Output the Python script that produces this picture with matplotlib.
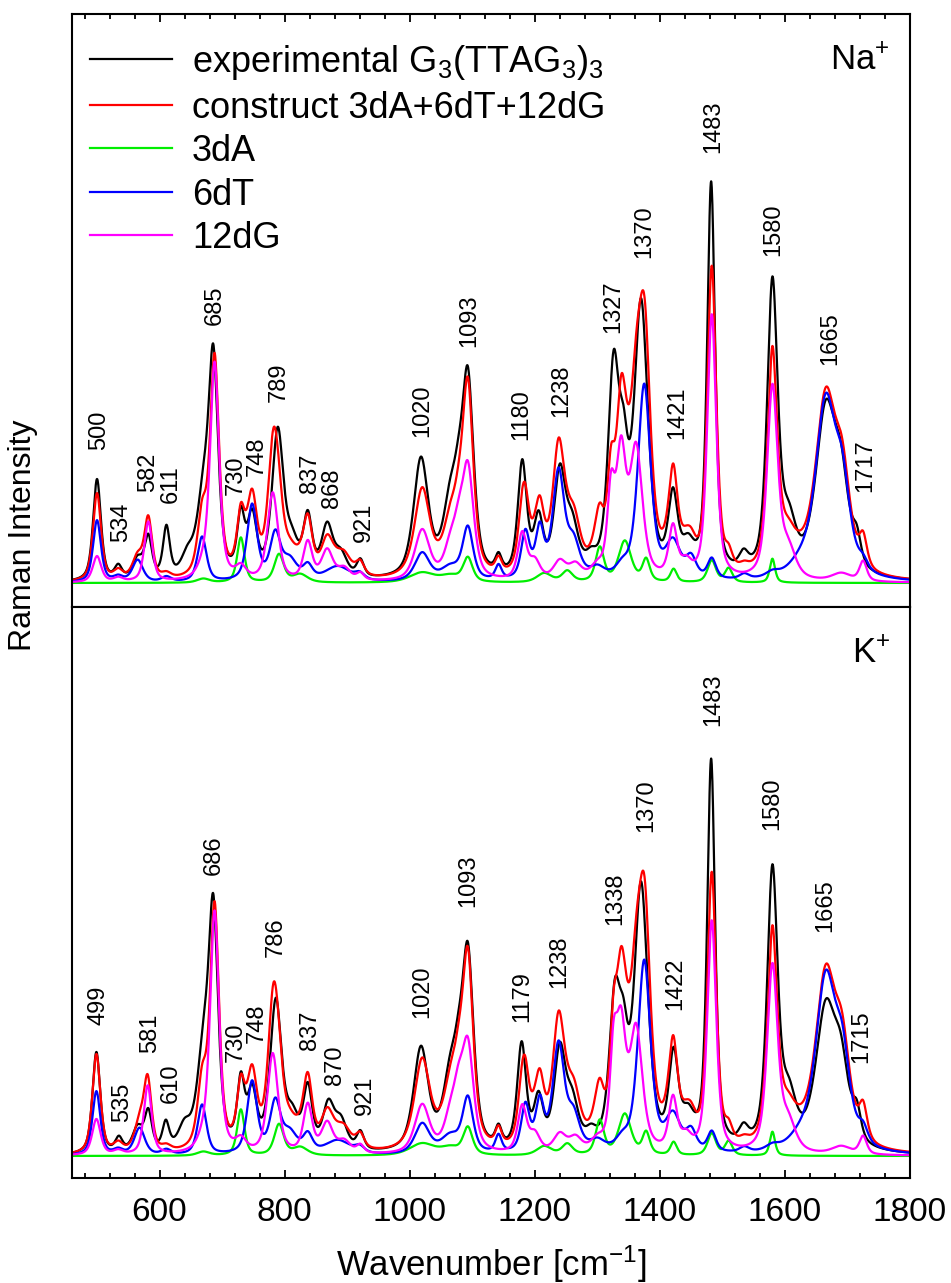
import numpy as np
import matplotlib
matplotlib.use("Agg")
import matplotlib.pyplot as plt
from matplotlib.ticker import MultipleLocator

# ---------------- data (band tables) ----------------
wavenumber = np.arange(460.0, 1800.5, 0.5)

# Na+ panel --------------------------------------------------------------
na_3dA_center = [670, 730, 791, 825, 1020, 1065, 1093, 1215, 1252, 1304, 1344, 1378, 1422, 1483, 1510, 1580]
na_3dA_height = [4, 45, 28, 8, 10, 6, 24, 9, 11, 34, 41, 22, 13, 22, 14, 24]
na_3dA_width = [12, 7, 9, 14, 24, 18, 9, 14, 10, 8, 12, 7, 6, 8, 7, 5]

na_6dT_center = [500, 534, 565, 611, 668, 748, 785, 808, 837, 885, 920, 1020, 1065, 1093, 1142, 1185,
                 1208, 1238, 1262, 1300, 1340, 1375, 1421, 1450, 1483, 1535, 1580, 1625, 1665, 1692, 1725]
na_6dT_height = [62, 5, 22, 5, 45, 76, 45, 20, 14, 15, 6, 28, 13, 52, 14, 46,
                 48, 106, 34, 10, 10, 195, 35, 20, 20, 5, 5, 12, 172, 80, 10]
na_6dT_width = [7.5, 9, 10, 9, 8.5, 9.5, 10, 14, 9, 24, 9, 14, 18, 10, 6, 8,
                8, 11, 12, 14, 12, 12, 14, 10, 8, 9, 12, 22, 19, 15, 9]

na_12dG_center = [500, 534, 582, 670, 688, 730, 781, 837, 868, 895, 921, 1020, 1065, 1078, 1093, 1180,
                  1200, 1240, 1265, 1300, 1322, 1338, 1362, 1421, 1442, 1483, 1580, 1605, 1690, 1725]
na_12dG_height = [26, 4, 60, 10, 218, 12, 88, 38, 30, 12, 7, 50, 28, 34, 108, 46,
                  18, 18, 14, 10, 80, 118, 128, 50, 14, 265, 192, 28, 8, 20]
na_12dG_width = [8, 9, 7.5, 10, 8.5, 10, 10, 8.5, 11, 12, 7, 14, 12, 10, 11, 8.5,
                 10, 12, 12, 12, 7, 9, 12, 8, 10, 8.5, 10, 14, 18, 7]

na_exp_center = [500, 534, 565, 582, 611, 645, 670, 686, 730, 748, 789, 812, 837, 868, 890, 921,
                 1018, 1065, 1078, 1093, 1142, 1180, 1206, 1240, 1260, 1290, 1326, 1342, 1370, 1421,
                 1445, 1482, 1534, 1580, 1606, 1665, 1690, 1715]
na_exp_height = [102, 13, 20, 40, 50, 20, 72, 210, 57, 58, 145, 30, 58, 50, 22, 17,
                 118, 66, 44, 190, 16, 112, 54, 100, 44, 12, 198, 88, 268, 74,
                 26, 392, 16, 290, 46, 160, 80, 26]
na_exp_width = [7.5, 7, 10, 7, 6.5, 12, 12, 9, 7, 9, 11, 12, 8.5, 11, 12, 7,
                14, 14, 10, 11, 6, 8.5, 9, 11, 12, 10, 10.5, 9, 13, 9,
                12, 7.5, 9, 10, 14, 19, 15, 8]

# K+ panel ---------------------------------------------------------------
k_3dA_center = [670, 730, 791, 825, 1020, 1065, 1093, 1215, 1252, 1304, 1344, 1378, 1422, 1483, 1510, 1580]
k_3dA_height = [4, 46, 31, 8, 12, 7, 27, 9, 11, 34, 41, 22, 13, 22, 14, 24]
k_3dA_width = [12, 7, 9, 14, 24, 18, 9, 14, 10, 8, 12, 7, 6, 8, 7, 5]

k_6dT_center = [499, 534, 568, 611, 668, 748, 785, 808, 837, 885, 920, 1020, 1065, 1093, 1142, 1185,
                1208, 1238, 1262, 1300, 1340, 1375, 1421, 1450, 1483, 1535, 1580, 1625, 1665, 1692, 1725]
k_6dT_height = [64, 5, 27, 5, 50, 72, 50, 20, 18, 14, 6, 30, 17, 54, 17, 46,
                48, 106, 34, 10, 10, 192, 35, 20, 20, 5, 5, 12, 168, 80, 16]
k_6dT_width = [7.5, 9, 10, 9, 8.5, 9.5, 10, 14, 9, 24, 9, 14, 18, 10, 6, 8,
               8, 11, 12, 14, 12, 12, 14, 10, 8, 9, 12, 22, 19, 15, 9]

k_12dG_center = [499, 534, 581, 670, 688, 730, 781, 837, 868, 895, 921, 1020, 1065, 1078, 1093, 1180,
                 1200, 1240, 1265, 1300, 1326, 1338, 1362, 1421, 1442, 1483, 1580, 1605, 1690, 1725]
k_12dG_height = [36, 4, 69, 10, 242, 12, 100, 48, 30, 12, 8, 48, 30, 44, 102, 46,
                 18, 18, 14, 10, 88, 112, 120, 52, 14, 232, 186, 28, 8, 18]
k_12dG_width = [8, 9, 7.5, 10, 8.5, 10, 10, 8.5, 11, 12, 7, 14, 12, 10, 11, 8.5,
                10, 12, 12, 12, 7, 9, 12, 8, 10, 8.5, 10, 14, 18, 7]

k_exp_center = [499, 535, 565, 582, 610, 640, 670, 686, 730, 748, 786, 812, 837, 870, 890, 921,
                1018, 1065, 1078, 1093, 1142, 1179, 1206, 1240, 1260, 1290, 1328, 1342, 1370, 1422,
                1445, 1482, 1534, 1580, 1606, 1665, 1690, 1715]
k_exp_height = [102, 14, 24, 38, 27, 22, 88, 228, 64, 54, 148, 30, 60, 44, 28, 18,
                102, 65, 44, 188, 18, 104, 48, 96, 42, 12, 140, 75, 260, 88,
                28, 388, 16, 276, 46, 136, 70, 28]
k_exp_width = [7.5, 7, 10, 7, 6.5, 12, 12, 9, 7, 9, 11, 12, 8.5, 11, 12, 7,
               14, 14, 10, 11, 6, 8.5, 9, 11, 12, 10, 10.5, 9, 13, 9,
               12, 7.5, 9, 10, 14, 19, 15, 8]

# peak annotations ---------------------------------------------------------
na_label_text = ["500", "534", "582", "611", "685", "730", "748", "789", "837", "868", "921",
                 "1020", "1093", "1180", "1238", "1327", "1370", "1421", "1483", "1580", "1665", "1717"]
na_label_x = [503, 538, 582, 618, 689, 722, 756, 790, 841, 876, 926,
              1020, 1096, 1178, 1242, 1326, 1375, 1428, 1486, 1582, 1673, 1729]
na_label_y = [133, 41, 91, 80, 258, 88, 107, 181, 90, 75, 41,
              146, 236, 143, 166, 250, 325, 144, 430, 327, 218, 91]

k_label_text = ["499", "535", "581", "610", "686", "730", "748", "786", "837", "870", "921",
                "1020", "1093", "1179", "1238", "1338", "1370", "1422", "1483", "1580", "1665", "1715"]
k_label_x = [503, 540, 585, 618, 686, 722, 756, 786, 841, 881, 929,
             1020, 1094, 1180, 1239, 1329, 1378, 1425, 1485, 1580, 1665, 1722]
k_label_y = [131, 34, 103, 53, 281, 94, 113, 199, 106, 71, 41,
             138, 249, 134, 168, 231, 324, 146, 430, 326, 224, 93]

legend_labels = ["experimental G$_3$(TTAG$_3$)$_3$", "construct 3dA+6dT+12dG", "3dA", "6dT", "12dG"]
series_colors = ["#000000", "#ff0000", "#00ee00", "#0000ff", "#ff00ff"]


def band_sum(centers, heights, widths):
    c = np.asarray(centers, float)[:, None]
    h = np.asarray(heights, float)[:, None]
    w = np.asarray(widths, float)[:, None]
    d = (wavenumber[None, :] - c) / w
    prof = 0.6 / (1.0 + d ** 2) + 0.4 * np.exp(-np.log(2.0) * d ** 2)
    return (h * prof).sum(axis=0)


# ---------------- style ----------------
plt.rcParams["font.family"] = ["Liberation Sans", "DejaVu Sans"]
plt.rcParams["mathtext.fontset"] = "custom"
plt.rcParams["mathtext.rm"] = "Liberation Sans"
plt.rcParams["mathtext.it"] = "Liberation Sans:italic"
plt.rcParams["mathtext.bf"] = "Liberation Sans:bold"

fig = plt.figure(figsize=(9.51, 12.83), dpi=100)
W, H = 951.0, 1283.0
ax1 = fig.add_axes([72 / W, (H - 607) / H, 838 / W, 593 / H])
ax2 = fig.add_axes([72 / W, (H - 1178) / H, 838 / W, 571 / H])

panels = [
    (ax1, (na_exp_center, na_exp_height, na_exp_width), (na_3dA_center, na_3dA_height, na_3dA_width),
     (na_6dT_center, na_6dT_height, na_6dT_width), (na_12dG_center, na_12dG_height, na_12dG_width),
     na_label_text, na_label_x, na_label_y, "Na$^{+}$", (-24, 569), 0.905),
    (ax2, (k_exp_center, k_exp_height, k_exp_width), (k_3dA_center, k_3dA_height, k_3dA_width),
     (k_6dT_center, k_6dT_height, k_6dT_width), (k_12dG_center, k_12dG_height, k_12dG_width),
     k_label_text, k_label_x, k_label_y, "K$^{+}$", (-22, 549), 0.902),
]

handles = None
for ax, exp_t, a_t, t_t, g_t, ltxt, lx, ly, ion, ylim, ion_y in panels:
    exp = band_sum(*exp_t)
    dA = band_sum(*a_t)
    dT = band_sum(*t_t)
    dG = band_sum(*g_t)
    construct = dA + dT + dG
    lines = []
    for y, col in zip([exp, construct, dA, dT, dG], series_colors):
        ln, = ax.plot(wavenumber, y, color=col, lw=1.6)
        lines.append(ln)
    if handles is None:
        handles = lines
    for t, x, y in zip(ltxt, lx, ly):
        ax.text(x, y, t, rotation=90, ha="center", va="bottom", fontsize=17)
    ax.text(0.976, ion_y, ion, transform=ax.transAxes, ha="right", va="baseline", fontsize=25)
    ax.set_xlim(460, 1800)
    ax.set_ylim(*ylim)
    ax.set_yticks([])
    ax.xaxis.set_major_locator(MultipleLocator(200))
    ax.xaxis.set_minor_locator(MultipleLocator(40))
    for s in ax.spines.values():
        s.set_linewidth(1.5)

ax1.tick_params(axis="x", which="both", direction="in", top=True, bottom=False,
                labelbottom=False, labeltop=False, width=1.3)
ax1.tick_params(axis="x", which="major", length=6)
ax1.tick_params(axis="x", which="minor", length=3.5)
ax2.tick_params(axis="x", which="both", direction="in", top=False, bottom=True, width=1.3)
ax2.tick_params(axis="x", which="major", length=6, labelsize=24, pad=14)
ax2.tick_params(axis="x", which="minor", length=3.5)
ax2.set_xlabel("Wavenumber [cm$^{-1}$]", fontsize=25, labelpad=11)

fig.text(23 / W, 1 - 535 / H, "Raman Intensity", rotation=90, ha="center", va="center", fontsize=23)

ax1.legend(handles, legend_labels, loc="upper left", bbox_to_anchor=(0.0215, 0.951), frameon=False,
           fontsize=26, handlelength=2.27, handletextpad=0.55, labelspacing=0.235,
           borderaxespad=0, borderpad=0)

fig.savefig("out.png", dpi=100)
